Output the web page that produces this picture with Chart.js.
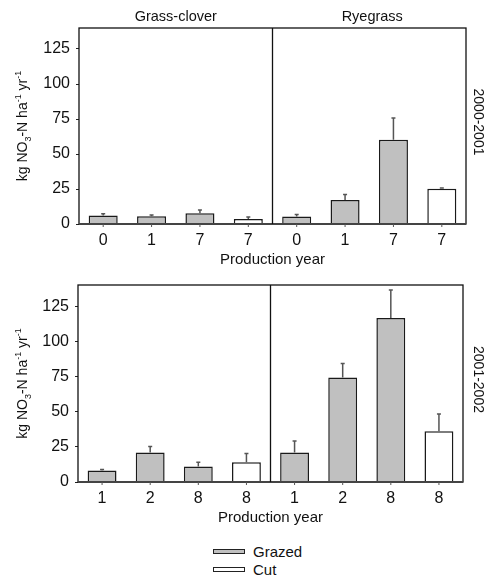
<!DOCTYPE html>
<html>
<head>
<meta charset="utf-8">
<script src="https://cdn.jsdelivr.net/npm/chart.js@4/dist/chart.umd.min.js"></script>
<style>
  body { margin: 0; background: #fff; width: 486px; height: 579px; position: relative; overflow: hidden; font-family: "Liberation Sans", Arial, sans-serif; }
  canvas { position: absolute; left: 0; }
  .leg { position: absolute; left: 213px; width: 30px; height: 3px; border: 1.5px solid #222; }
  .legtxt { position: absolute; left: 253px; font-size: 15px; color: #111; line-height: 18px; }
</style>
</head>
<body>
<canvas id="top" width="486" height="280" style="top:0"></canvas>
<canvas id="bottom" width="486" height="268" style="top:264px"></canvas>
<div class="leg" style="top:549px; background:#c0c0c0"></div>
<div class="legtxt" style="top:543px">Grazed</div>
<div class="leg" style="top:567px; background:#fff"></div>
<div class="legtxt" style="top:561px">Cut</div>

<script>
// panels and categories
const groups = ['Grass-clover', 'Ryegrass'];
const seasons = ['2000-2001', '2001-2002'];
const yearsTop = ['0', '1', '7', '7', '0', '1', '7', '7'];
const yearsBottom = ['1', '2', '8', '8', '1', '2', '8', '8'];

// 2000-2001 (mean and standard error)
const grazedTop = [6.0, 5.5, 7.6, null, 5.3, 17.2, 60.1, null];
const cutTop = [null, null, null, 3.6, null, null, null, 25.1];
const errTop = [1.4, 0.9, 2.4, 1.4, 1.4, 3.8, 15.6, 0.7];

// 2001-2002
const grazedBottom = [8.1, 21.0, 11.0, null, 21.0, 74.2, 116.5, null];
const cutBottom = [null, null, null, 14.1, null, null, null, 36.0];
const errBottom = [0.7, 4.3, 3.1, 6.2, 8.1, 10.0, 20.0, 12.4];

const yTicks = [0, 25, 50, 75, 100, 125];
const FONT = '"Liberation Sans", Arial, sans-serif';

// error bars, frame, divider and extra labels
const panelPlugin = {
    id: 'panel',
    afterDatasetsDraw(chart, args, opts) {
        const ctx = chart.ctx;
        const a = chart.chartArea;
        const xs = chart.scales.x, ys = chart.scales.y;
        ctx.save();
        // error bars
        ctx.strokeStyle = '#555';
        ctx.lineWidth = 1.5;
        opts.err.forEach(function (e, i) {
            for (let d = 0; d < chart.data.datasets.length; d++) {
                const v = chart.data.datasets[d].data[i];
                if (v == null) continue;
                const el = chart.getDatasetMeta(d).data[i];
                const yTop = ys.getPixelForValue(v + e);
                ctx.beginPath();
                ctx.moveTo(el.x, el.y);
                ctx.lineTo(el.x, yTop);
                ctx.moveTo(el.x - 2, yTop);
                ctx.lineTo(el.x + 2, yTop);
                ctx.stroke();
            }
        });
        // frame
        ctx.strokeStyle = '#111';
        ctx.lineWidth = 1.3;
        ctx.strokeRect(a.left, a.top, a.right - a.left, a.bottom - a.top);
        ctx.strokeStyle = '#444';
        ctx.lineWidth = 1.8;
        ctx.beginPath();
        ctx.moveTo(a.left, a.bottom);
        ctx.lineTo(a.right, a.bottom);
        ctx.stroke();
        // divider between groups
        const mid = (xs.getPixelForValue(3) + xs.getPixelForValue(4)) / 2;
        ctx.strokeStyle = '#111';
        ctx.lineWidth = 1.3;
        ctx.beginPath();
        ctx.moveTo(mid, a.top);
        ctx.lineTo(mid, a.bottom);
        ctx.stroke();
        // small x ticks below axis
        ctx.strokeStyle = '#555';
        ctx.lineWidth = 1;
        for (let i = 0; i < 8; i++) {
            const x = xs.getPixelForValue(i);
            ctx.beginPath();
            ctx.moveTo(x, a.bottom);
            ctx.lineTo(x, a.bottom + 3);
            ctx.stroke();
        }
        ctx.fillStyle = '#111';
        // group titles
        if (opts.titles) {
            ctx.font = '14.5px ' + FONT;
            ctx.textAlign = 'center';
            ctx.textBaseline = 'middle';
            ctx.fillText(groups[0], (a.left + mid) / 2, 17);
            ctx.fillText(groups[1], (mid + a.right) / 2 + 3, 17);
        }
        // season label on the right
        ctx.save();
        ctx.translate(478, (a.top + a.bottom) / 2 - 4);
        ctx.rotate(Math.PI / 2);
        ctx.font = '14px ' + FONT;
        ctx.textAlign = 'center';
        ctx.textBaseline = 'middle';
        ctx.fillText(opts.season, 0, 0);
        ctx.restore();
        // y title with sub/superscripts
        const parts = [
            ['kg NO', 14, 0], ['3', 9, 4], ['-N ha', 14, 0], ['-1', 9, -6],
            [' yr', 14, 0], ['-1', 9, -6]
        ];
        let total = 0;
        parts.forEach(function (p) { ctx.font = p[1] + 'px ' + FONT; total += ctx.measureText(p[0]).width; });
        ctx.save();
        ctx.translate(27, (a.top + a.bottom) / 2);
        ctx.rotate(-Math.PI / 2);
        ctx.textAlign = 'left';
        ctx.textBaseline = 'alphabetic';
        let px = -total / 2;
        parts.forEach(function (p) {
            ctx.font = p[1] + 'px ' + FONT;
            ctx.fillText(p[0], px, p[2]);
            px += ctx.measureText(p[0]).width;
        });
        ctx.restore();
        ctx.restore();
    }
};

function makePanel(id, years, grazed, cut, err, season, titles, lay) {
    const ctx = document.getElementById(id).getContext('2d');
    return new Chart(ctx, {
        type: 'bar',
        data: {
            labels: years,
            datasets: [
                { label: 'Grazed', data: grazed, backgroundColor: '#c0c0c0', borderColor: '#1a1a1a', borderWidth: 1.5, borderSkipped: 'bottom' },
                { label: 'Cut', data: cut, backgroundColor: '#ffffff', borderColor: '#1a1a1a', borderWidth: 1.5, borderSkipped: 'bottom' }
            ]
        },
        options: {
            responsive: false,
            animation: false,
            layout: { padding: { top: lay.top, right: lay.right, left: 0, bottom: lay.bottom } },
            plugins: {
                legend: { display: false },
                tooltip: { enabled: false },
                panel: { err: err, season: season, titles: titles }
            },
            datasets: { bar: { barPercentage: 0.6, categoryPercentage: 1.0 } },
            scales: {
                x: {
                    stacked: true,
                    grid: { display: false, drawTicks: false },
                    border: { display: false },
                    ticks: { font: { family: FONT, size: 16 }, color: '#111', padding: 7, maxRotation: 0, autoSkip: false },
                    title: { display: true, text: 'Production year', font: { family: FONT, size: 15 }, color: '#111', padding: { top: 4, bottom: 4 } },
                    afterFit: function (s) { s.height = lay.xh; }
                },
                y: {
                    stacked: false,
                    min: 0,
                    max: 140,
                    afterBuildTicks: function (s) { s.ticks = yTicks.map(function (v) { return { value: v }; }); },
                    grid: { display: true, drawOnChartArea: false, drawTicks: true, tickLength: 3, color: '#222' },
                    border: { display: false },
                    ticks: { font: { family: FONT, size: 16 }, color: '#111', padding: 6 },
                    afterFit: function (s) { s.width = lay.left; }
                }
            }
        },
        plugins: [panelPlugin]
    });
}

makePanel('top', yearsTop, grazedTop, cutTop, errTop, seasons[0], true,
    { top: 28, right: 20, bottom: 7, left: 79, xh: 49 });
makePanel('bottom', yearsBottom, grazedBottom, cutBottom, errBottom, seasons[1], false,
    { top: 21, right: 23, bottom: 1, left: 78, xh: 49 });
</script>
</body>
</html>
